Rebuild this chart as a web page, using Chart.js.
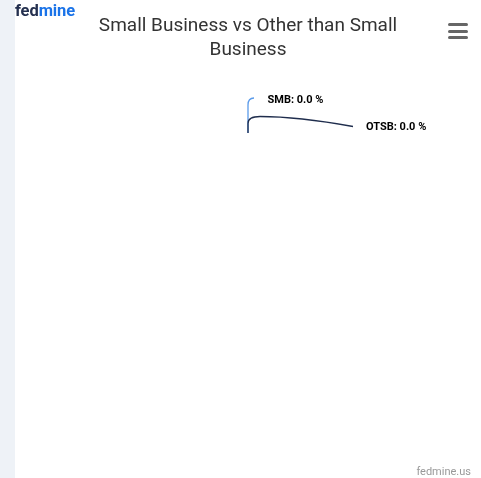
<!DOCTYPE html>
<html>
<head>
<meta charset="utf-8">
<script src="https://cdn.jsdelivr.net/npm/chart.js@4/dist/chart.umd.min.js"></script>
<style>
  html, body { margin: 0; padding: 0; background: #ffffff; }
  body { width: 481px; height: 478px; position: relative; overflow: hidden; font-family: Roboto, "Noto Sans", sans-serif; }
  #strip { position: absolute; left: 0; top: 0; width: 15px; height: 478px; background: #eef2f7; }
  #wrap { position: absolute; left: 15px; top: 0; width: 466px; height: 478px; }
  #logo { position: absolute; left: 15px; top: 1px; font: 700 16.5px Roboto, sans-serif; letter-spacing: -0.1px; z-index: 2; }
  #logo .a { color: #24304f; }
  #logo .b { color: #1a73e8; }
  #menu { position: absolute; left: 448px; top: 23px; width: 20px; z-index: 2; }
  #menu div { height: 3px; background: #666666; border-radius: 1.5px; margin-bottom: 3.5px; }
  #credit { position: absolute; right: 10px; top: 465px; font: 11px Roboto, sans-serif; color: #999999; z-index: 2; }
</style>
</head>
<body>
<div id="strip"></div>
<div id="wrap"><canvas id="c" width="466" height="478"></canvas></div>
<div id="logo"><span class="a">fed</span><span class="b">mine</span></div>
<div id="menu"><div></div><div></div><div></div></div>
<div id="credit">fedmine.us</div>
<script>
const categories = ['SMB', 'OTSB'];
const values = [0, 0];
const titleLines = ['Small Business vs Other than Small', 'Business'];

const sliceColors = ['#5b9bea', '#1f2d4d'];

const labelPlugin = {
  id: 'pieLabels',
  afterDatasetsDraw(chart) {
    const ctx = chart.ctx;
    const meta = chart.getDatasetMeta(0);
    const data = chart.data.datasets[0].data;
    const total = data.reduce((a, b) => a + b, 0);
    // per-label layout: offsets from the slice's anchor point on the pie edge
    const layout = [
      { dx: 19.5, dy: -32.5, endDx: 6, endDy: -35, bendDy: -35 },
      { dx: 118, dy: -5.5, endDx: 105, endDy: -6.5, bendDy: -16.5 }
    ];
    meta.data.forEach((arc, i) => {
      const p = arc.getProps(['x', 'y', 'startAngle', 'endAngle', 'outerRadius'], true);
      const mid = (p.startAngle + p.endAngle) / 2;
      const px = p.x + Math.cos(mid) * p.outerRadius;
      const py = p.y + Math.sin(mid) * p.outerRadius;
      const L = layout[i];
      const lx = px + L.dx, ly = py + L.dy;
      const bendY = py + L.bendDy;
      const ex = px + L.endDx, ey = py + L.endDy;
      ctx.save();
      ctx.strokeStyle = sliceColors[i];
      ctx.lineWidth = 1.3;
      ctx.beginPath();
      ctx.moveTo(px, py);
      if (i === 0) {
        ctx.lineTo(px, bendY + 7);
        ctx.quadraticCurveTo(px, bendY, ex, ey);
      } else {
        ctx.lineTo(px, bendY + 7);
        ctx.quadraticCurveTo(px, bendY, px + 12, bendY);
        ctx.quadraticCurveTo(px + 50, bendY, ex, ey);
      }
      ctx.stroke();
      const pct = total ? data[i] / total * 100 : 0;
      const text = chart.data.labels[i] + ': ' + pct.toFixed(1) + ' %';
      ctx.font = '700 11px Roboto, sans-serif';
      ctx.textAlign = 'left';
      ctx.textBaseline = 'middle';
      ctx.lineWidth = 2;
      ctx.strokeStyle = '#ffffff';
      ctx.lineJoin = 'round';
      ctx.strokeText(text, lx, ly);
      ctx.fillStyle = '#000000';
      ctx.fillText(text, lx, ly);
      ctx.restore();
    });
  }
};

new Chart(document.getElementById('c'), {
  type: 'pie',
  data: {
    labels: categories,
    datasets: [{
      data: values,
      backgroundColor: sliceColors,
      borderWidth: 0,
      radius: 128
    }]
  },
  options: {
    responsive: false,
    animation: false,
    layout: { padding: { top: 0, bottom: 36, left: 0, right: 0 } },
    plugins: {
      legend: { display: false },
      tooltip: { enabled: false },
      title: {
        display: true,
        text: titleLines,
        color: '#333333',
        font: { family: 'Roboto, sans-serif', size: 19, weight: 'normal', lineHeight: 1.2632 },
        padding: { top: 14, bottom: 18 }
      }
    }
  },
  plugins: [labelPlugin]
});
</script>
</body>
</html>
